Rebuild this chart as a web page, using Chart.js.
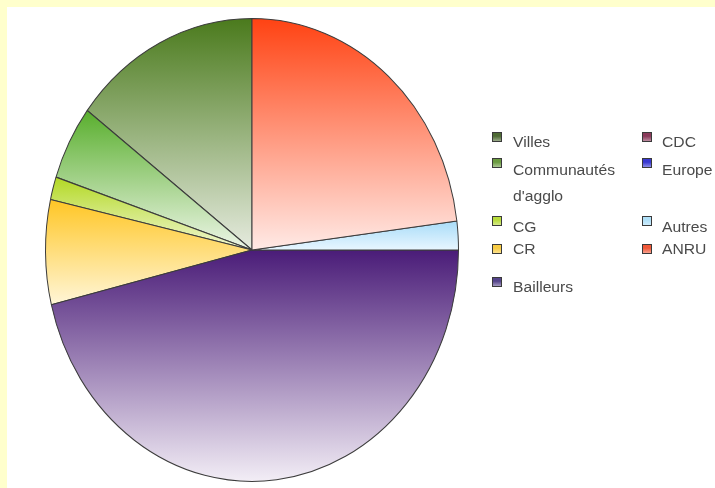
<!DOCTYPE html>
<html>
<head>
<meta charset="utf-8">
<script src="https://cdn.jsdelivr.net/npm/chart.js@4"></script>
<style>
html,body{margin:0;padding:0;}
body{width:715px;height:488px;background:#ffffcc;position:relative;overflow:hidden;font-family:"Liberation Sans",Arial,sans-serif;}
#panel{position:absolute;left:7px;top:7px;width:708px;height:481px;background:#ffffff;}
#panel canvas{position:absolute;left:0;top:0;}
.sw{position:absolute;width:8px;height:8px;border:1px solid #3a3a3a;}
.lt{position:absolute;font-size:14px;color:#4a4a4a;line-height:26px;transform:scaleX(1.12);transform-origin:0 50%;white-space:nowrap;}
</style>
</head>
<body>
<div id="panel"><canvas id="c" width="708" height="481"></canvas></div>
<div id="legend"></div>
<script>
// ---- data ----
const labels = ['Villes', "Communautés d'agglo", 'CG', 'CR', 'Bailleurs', 'CDC', 'Europe', 'Autres', 'ANRU'];
const values = [14.7, 5.2, 1.6, 7.3, 46.2, 0, 0, 2.0, 23.0];

// ---- styles ----
const topColors    = ['#4a7a1c', '#58ae2c', '#b2d822', '#ffc624', '#4a1c78', '#8a2a50', '#3030c8', '#a8dcf8', '#ff4212'];
const bottomColors = ['#e6ebdf', '#eef6e8', '#f2f8d6', '#fff6d8', '#f3eef6', '#f0dde6', '#e0e0ff', '#e8f6ff', '#ffeae6'];
const swatchColors = ['#4e6a34', '#6a9a40', '#b8dc3c', '#f8cc44', '#54448a', '#8a3a5a', '#3838d0', '#b0e0f8', '#f05838'];
const STRETCH = 232 / 207;

function sliceGradient(context) {
  const chart = context.chart;
  const a = chart.chartArea;
  const i = context.dataIndex;
  if (!a) return topColors[i];
  const cy = (a.top + a.bottom) / 2;
  const r = Math.min(a.right - a.left, a.bottom - a.top) / 2;
  const total = values.reduce((s, v) => s + v, 0);
  let start = -Math.PI / 2;
  for (let j = 0; j < i; j++) start += 2 * Math.PI * values[j] / total;
  const end = start + 2 * Math.PI * values[i] / total;
  const ys = [cy, cy + r * Math.sin(start), cy + r * Math.sin(end)];
  for (const ang of [-Math.PI / 2, Math.PI / 2, 3 * Math.PI / 2]) {
    if (ang >= start && ang <= end) ys.push(cy + r * Math.sin(ang));
  }
  let y0 = Math.min(...ys), y1 = Math.max(...ys);
  if (y1 - y0 < 1) y1 = y0 + 1;
  const g = chart.ctx.createLinearGradient(0, y0, 0, y1);
  g.addColorStop(0, topColors[i]);
  g.addColorStop(1, bottomColors[i]);
  return g;
}

const ellipse = {
  id: 'ellipse',
  beforeDatasetsDraw(chart) {
    const el = chart.getDatasetMeta(0).data[0];
    const ctx = chart.ctx;
    ctx.save();
    ctx.translate(el.x, el.y);
    ctx.scale(-1, STRETCH);
    ctx.translate(-el.x, -el.y);
  },
  afterDatasetsDraw(chart) { chart.ctx.restore(); }
};

new Chart(document.getElementById('c'), {
  type: 'pie',
  data: {
    labels: labels,
    datasets: [{
      data: values,
      backgroundColor: sliceGradient,
      borderColor: '#3c3c3c',
      borderWidth: 1,
      hoverOffset: 0
    }]
  },
  options: {
    responsive: false,
    animation: false,
    events: [],
    layout: { padding: { left: 38, right: 256, top: 36, bottom: 31 } },
    plugins: { legend: { display: false }, tooltip: { enabled: false } }
  },
  plugins: [ellipse]
});

// ---- HTML legend (2 columns, column-major) ----
const rowText = [142, 170, 227, 249, 287];
const rowSwatch = [137, 163, 221, 249, 282];
const colSwatchX = [492, 642];
const colTextX = [513, 662];
const leg = document.getElementById('legend');
labels.forEach((lab, i) => {
  const col = Math.floor(i / 5), row = i % 5;
  const sw = document.createElement('div');
  sw.className = 'sw';
  sw.style.left = colSwatchX[col] + 'px';
  sw.style.top = (rowSwatch[row] - 5) + 'px';
  sw.style.background = 'linear-gradient(to bottom,' + swatchColors[i] + ' 0%,' + swatchColors[i] + ' 40%,' + bottomColors[i] + ' 160%)';
  leg.appendChild(sw);
  const t = document.createElement('div');
  t.className = 'lt';
  t.style.left = colTextX[col] + 'px';
  t.style.top = (rowText[row] - 13) + 'px';
  const parts = lab.split(' ');
  parts.forEach((p, k) => {
    if (k > 0) t.appendChild(document.createElement('br'));
    t.appendChild(document.createTextNode(p));
  });
  leg.appendChild(t);
});
</script>
</body>
</html>
